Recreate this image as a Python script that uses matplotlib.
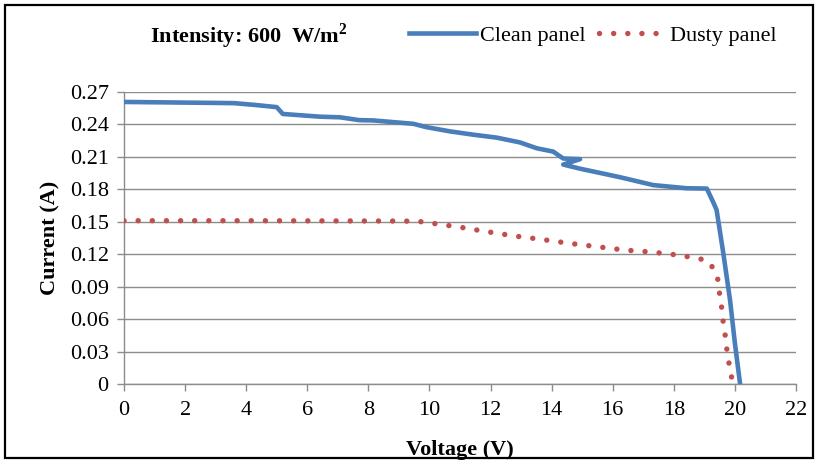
import matplotlib.pyplot as plt
from matplotlib.patches import Rectangle
from matplotlib.lines import Line2D

# I-V curves
clean_v = [0.0, 1.0, 2.0, 3.0, 3.6, 4.3, 5.0, 5.2, 6.4, 7.07, 7.7, 8.16, 9.47, 9.9,
           10.67, 11.44, 12.2, 12.96, 13.51, 14.05, 14.38, 14.93, 14.38, 14.93, 16.24,
           17.33, 18.42, 19.08, 19.3, 19.4, 19.62, 19.84, 20.0, 20.17]
clean_i = [0.2608, 0.2605, 0.2602, 0.2599, 0.2597, 0.2580, 0.2560, 0.2497, 0.2472, 0.2466,
           0.2440, 0.2437, 0.2406, 0.2375, 0.2336, 0.2305, 0.2278, 0.2234, 0.2180, 0.2149,
           0.2085, 0.2079, 0.2029, 0.1991, 0.1912, 0.1839, 0.1810, 0.1807, 0.1675, 0.1610,
           0.1210, 0.0777, 0.0376, 0.0]

dusty_v = [0.0, 4.0, 8.76, 9.6, 10.1, 11.0, 11.87, 12.8, 13.67, 14.6, 15.48, 16.4, 17.28,
           18.2, 19.08, 19.35, 19.49, 19.5, 19.6, 19.62, 19.71, 19.75, 19.84, 19.93]
dusty_i = [0.1510, 0.1510, 0.1507, 0.1505, 0.1486, 0.1450, 0.1409, 0.1368, 0.1337, 0.1300,
           0.1270, 0.1238, 0.1220, 0.1190, 0.1145, 0.1050, 0.0920, 0.0790, 0.0666, 0.0540,
           0.0410, 0.0270, 0.0145, 0.0]

yticks = [0, 0.03, 0.06, 0.09, 0.12, 0.15, 0.18, 0.21, 0.24, 0.27]
ylabels = ['0', '0.03', '0.06', '0.09', '0.12', '0.15', '0.18', '0.21', '0.24', '0.27']
xticks = list(range(0, 23, 2))

blue = '#4a7ebb'
red = '#c0504d'
grid = '#8c8c8c'
dots = (0, (0.01, 2.6))

plt.rcParams['font.family'] = ['Liberation Serif', 'DejaVu Serif']
plt.rcParams['mathtext.fontset'] = 'custom'
plt.rcParams['mathtext.rm'] = 'Liberation Serif'
plt.rcParams['mathtext.bf'] = 'Liberation Serif:bold'

fig = plt.figure(figsize=(8.18, 4.63), dpi=100)
ax = fig.add_axes([124/818, 1-384/463, (796-124)/818, (384-92)/463])

ax.plot(clean_v, clean_i, color=blue, lw=3.3, solid_joinstyle='round', zorder=3)
ax.plot(dusty_v, dusty_i, color=red, lw=3.9, ls=dots, dash_capstyle='round', zorder=3)

ax.set_xlim(0, 22)
ax.set_ylim(0, 0.27)
ax.set_xticks(xticks)
ax.set_yticks(yticks)
ax.set_yticklabels(ylabels)
ax.grid(axis='y', color=grid, lw=1.0)
ax.set_axisbelow(True)
for s in ['top', 'right']:
    ax.spines[s].set_visible(False)
for s in ['left', 'bottom']:
    ax.spines[s].set_color(grid)
    ax.spines[s].set_linewidth(1.0)
ax.tick_params(axis='both', direction='out', length=5, color=grid, labelsize=16,
               width=1.0)
ax.tick_params(axis='y', pad=6)
ax.tick_params(axis='x', pad=7)

ax.set_xlabel('Voltage (V)', fontsize=16, fontweight='bold')
ax.set_ylabel('Current (A)', fontsize=16, fontweight='bold')
ax.xaxis.set_label_coords(0.5, -0.193)
ax.yaxis.set_label_coords(-0.094, 0.5)

fig.text(150/818, 1-36/463, 'Intensity: 600  W/m$^{\\mathbf{2}}$', fontsize=16,
         fontweight='bold', va='center', ha='left')

handles = [Line2D([], [], color=blue, lw=3.3),
           Line2D([], [], color=red, lw=3.9, ls=dots, dash_capstyle='round')]
fig.legend(handles, ['Clean panel', 'Dusty panel'], ncol=2, frameon=False,
           loc='center', bbox_to_anchor=(593/818, 1-36/463), fontsize=16,
           handlelength=3.0, handletextpad=0.2, columnspacing=0.6)

fig.patches.append(Rectangle((5/818, 5/463), 808/818, 453/463, transform=fig.transFigure,
                             fill=False, edgecolor='black', lw=1.6))

fig.savefig('out.png', dpi=100)
